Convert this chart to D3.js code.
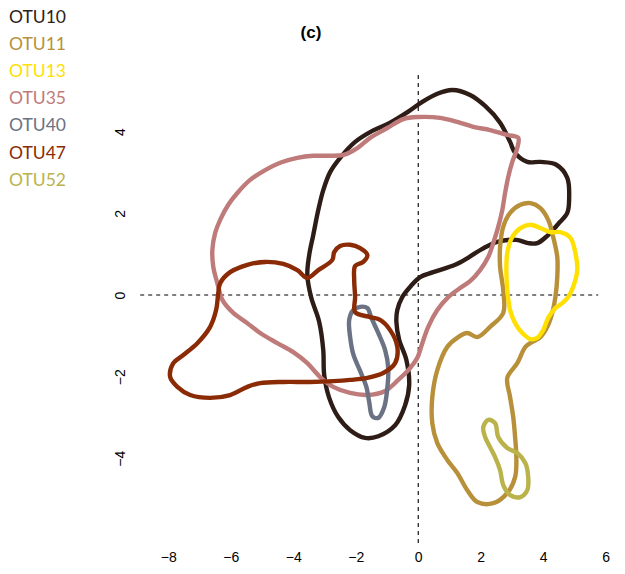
<!DOCTYPE html>
<html>
<head>
<meta charset="utf-8">
<script src="https://cdn.jsdelivr.net/npm/d3@7"></script>
<style>
html,body{margin:0;padding:0;background:#fff;}
svg{display:block;}
</style>
</head>
<body>
<svg id="chart" width="625" height="574"></svg>
<script>
// ---- data (data units) ----
const otuNames  = ["OTU10","OTU11","OTU13","OTU35","OTU40","OTU47","OTU52"];
const otuColors = ["#2e1d17","#b8903a","#ffe000","#bf7a7a","#6a7283","#8a2b05","#bab34b"];
const xTicks = [-8,-6,-4,-2,0,2,4,6];
const yTicks = [-4,-2,0,2,4];
const titleText = "(c)";

const otu10 = [[1.09,5.02],[1.66,4.90],[2.14,4.63],[2.62,4.22],[2.94,3.75],[3.10,3.48],[3.49,3.26],[3.91,3.26],[4.42,3.19],[4.77,2.87],[4.83,2.38],[4.77,2.01],[4.48,1.74],[4.13,1.45],[3.81,1.27],[3.52,1.27],[3.14,1.35],[2.53,1.30],[2.05,1.13],[1.63,0.93],[1.18,0.74],[0.48,0.56],[0.06,0.44],[-0.26,0.20],[-0.51,-0.05],[-0.67,-0.37],[-0.70,-0.66],[-0.61,-1.10],[-0.38,-1.59],[-0.29,-2.21],[-0.42,-2.70],[-0.74,-3.19],[-1.28,-3.46],[-1.70,-3.50],[-2.18,-3.31],[-2.56,-2.99],[-2.85,-2.52],[-3.01,-1.96],[-3.04,-1.35],[-3.17,-0.66],[-3.43,-0.05],[-3.55,0.49],[-3.49,0.98],[-3.36,1.47],[-3.20,2.08],[-3.04,2.57],[-2.82,3.01],[-2.50,3.36],[-2.02,3.75],[-1.47,4.02],[-0.90,4.22],[-0.32,4.49],[0.13,4.73],[0.61,4.93]];
const otu11 = [[3.59,2.25],[3.91,2.13],[4.16,1.84],[4.32,1.42],[4.45,0.93],[4.45,0.44],[4.39,-0.05],[4.29,-0.44],[4.13,-0.78],[3.91,-1.03],[3.65,-1.15],[3.43,-1.27],[3.17,-1.67],[2.85,-2.03],[2.94,-2.50],[3.04,-2.99],[3.10,-3.48],[3.14,-3.97],[3.10,-4.46],[2.85,-4.85],[2.40,-5.10],[1.89,-5.07],[1.57,-4.78],[1.25,-4.36],[0.93,-4.04],[0.61,-3.63],[0.45,-3.14],[0.45,-2.50],[0.61,-1.84],[0.93,-1.27],[1.28,-1.03],[1.57,-0.93],[1.89,-1.03],[2.30,-0.78],[2.72,-0.44],[2.72,0.12],[2.62,0.69],[2.62,1.18],[2.72,1.67],[2.94,2.01],[3.27,2.21]];
const otu13 = [[3.59,1.72],[3.91,1.64],[4.23,1.54],[4.55,1.54],[4.87,1.40],[5.03,1.03],[5.09,0.61],[4.96,0.20],[4.80,-0.05],[4.61,-0.20],[4.39,-0.32],[4.16,-0.56],[4.00,-0.86],[3.81,-1.05],[3.59,-1.08],[3.33,-0.93],[3.10,-0.69],[2.94,-0.37],[2.85,0.12],[2.82,0.61],[2.85,1.03],[3.01,1.42],[3.27,1.64]];
const otu35 = [[0.00,4.36],[0.70,4.34],[1.25,4.24],[1.76,4.12],[2.30,4.04],[2.85,3.92],[3.20,3.85],[3.17,3.60],[3.01,3.26],[2.88,2.89],[2.78,2.50],[2.69,2.08],[2.56,1.67],[2.40,1.27],[2.24,0.93],[1.98,0.61],[1.66,0.34],[1.34,0.17],[0.96,-0.05],[0.61,-0.37],[0.32,-0.78],[0.13,-1.18],[-0.03,-1.54],[-0.26,-1.79],[-0.64,-2.08],[-1.06,-2.35],[-1.63,-2.45],[-2.18,-2.40],[-2.72,-2.25],[-3.14,-2.01],[-3.55,-1.67],[-4.00,-1.40],[-4.51,-1.18],[-5.06,-0.93],[-5.47,-0.69],[-5.92,-0.44],[-6.27,-0.12],[-6.43,0.29],[-6.56,0.69],[-6.59,1.10],[-6.50,1.52],[-6.34,1.84],[-6.08,2.21],[-5.79,2.50],[-5.38,2.82],[-4.90,3.06],[-4.42,3.24],[-3.87,3.36],[-3.36,3.41],[-2.91,3.41],[-2.40,3.43],[-1.95,3.60],[-1.54,3.85],[-0.99,4.09],[-0.48,4.31]];
const otu40 = [[-1.86,-0.29],[-1.63,-0.32],[-1.50,-0.56],[-1.28,-0.93],[-1.06,-1.35],[-0.96,-1.79],[-0.99,-2.28],[-1.09,-2.75],[-1.28,-3.01],[-1.47,-2.97],[-1.57,-2.62],[-1.66,-2.25],[-1.86,-1.86],[-2.08,-1.45],[-2.18,-1.03],[-2.21,-0.61],[-2.08,-0.37]];
const otu47 = [[-6.40,0.05],[-6.34,0.29],[-6.02,0.56],[-5.47,0.74],[-4.90,0.81],[-4.32,0.76],[-3.87,0.61],[-3.55,0.42],[-3.20,0.61],[-2.75,0.86],[-2.69,1.05],[-2.50,1.20],[-2.18,1.23],[-1.86,1.15],[-1.63,0.98],[-1.76,0.81],[-2.02,0.71],[-2.05,0.37],[-2.02,-0.05],[-2.02,-0.42],[-1.54,-0.54],[-1.22,-0.61],[-0.90,-0.86],[-0.67,-1.27],[-0.74,-1.67],[-1.12,-1.91],[-1.63,-2.03],[-2.18,-2.08],[-2.72,-2.11],[-3.46,-2.13],[-4.32,-2.13],[-5.06,-2.16],[-5.47,-2.25],[-6.02,-2.45],[-6.66,-2.52],[-7.30,-2.45],[-7.71,-2.25],[-7.94,-2.01],[-7.84,-1.67],[-7.52,-1.47],[-7.07,-1.18],[-6.66,-0.78],[-6.47,-0.37]];
const otu52 = [[2.24,-3.06],[2.46,-3.14],[2.56,-3.48],[2.85,-3.75],[3.17,-3.87],[3.43,-4.12],[3.52,-4.46],[3.49,-4.78],[3.27,-4.95],[2.94,-4.90],[2.72,-4.66],[2.62,-4.29],[2.46,-3.97],[2.30,-3.73],[2.14,-3.48],[2.08,-3.24]];

const contours = [otu10, otu11, otu13, otu35, otu40, otu47, otu52];

// ---- drawing ----
const svg = d3.select("#chart");
const x = d3.scaleLinear().domain([-8, 6]).range([168.3, 605.7]);
const y = d3.scaleLinear().domain([-4, 4]).range([458.3, 131.7]);
const plotX = [-8.9, 5.76];   // plot region limits (data)
const plotY = [-6.13, 5.39];

// reference lines (dashed)
svg.append("line")
  .attr("x1", x(plotX[0])).attr("x2", x(plotX[1]))
  .attr("y1", y(0)).attr("y2", y(0))
  .attr("stroke", "#000").attr("stroke-width", 1.1).attr("stroke-dasharray", "4,4");
svg.append("line")
  .attr("x1", x(0)).attr("x2", x(0))
  .attr("y1", y(plotY[1])).attr("y2", y(plotY[0]))
  .attr("stroke", "#000").attr("stroke-width", 1.1).attr("stroke-dasharray", "4,4");

// contours
const line = d3.line()
  .x(d => x(d[0])).y(d => y(d[1]))
  .curve(d3.curveCatmullRomClosed.alpha(0.5));

svg.append("g").selectAll("path")
  .data(contours)
  .join("path")
  .attr("d", d => line(d))
  .attr("fill", "none")
  .attr("stroke", (d, i) => otuColors[i])
  .attr("stroke-width", 4.4)
  .attr("stroke-linejoin", "round")
  .attr("stroke-linecap", "round");

// x axis (labels only)
const xAxis = svg.append("g")
  .attr("transform", "translate(0,552)")
  .call(d3.axisBottom(x).tickValues(xTicks).tickSize(0).tickPadding(0).tickFormat(d3.format("d")));
xAxis.select(".domain").remove();
xAxis.selectAll("text")
  .attr("font-family", "Liberation Sans, Arial, sans-serif")
  .attr("font-size", 14).attr("fill", "#000").attr("dy", "0.71em");

// y axis (labels only, rotated)
const yAxis = svg.append("g")
  .attr("transform", "translate(120,0)")
  .call(d3.axisLeft(y).tickValues(yTicks).tickSize(0).tickFormat(d3.format("d")));
yAxis.select(".domain").remove();
yAxis.selectAll("text")
  .attr("font-family", "Liberation Sans, Arial, sans-serif")
  .attr("font-size", 14).attr("fill", "#000")
  .attr("x", 0).attr("dy", null)
  .attr("text-anchor", "middle")
  .attr("dominant-baseline", "central")
  .attr("transform", "rotate(-90)");

// title
svg.append("text")
  .attr("x", 311).attr("y", 38)
  .attr("text-anchor", "middle")
  .attr("font-family", "Liberation Sans, Arial, sans-serif")
  .attr("font-weight", "bold")
  .attr("font-size", 17)
  .text(titleText);

// legend
svg.append("g").selectAll("text")
  .data(otuNames)
  .join("text")
  .attr("x", 9)
  .attr("y", (d, i) => 16.5 + i * 27.1)
  .attr("dominant-baseline", "central")
  .attr("font-family", "Lato, 'Open Sans', sans-serif")
  .attr("font-size", 17.5)
  .attr("fill", (d, i) => otuColors[i])
  .text(d => d);
</script>
</body>
</html>
